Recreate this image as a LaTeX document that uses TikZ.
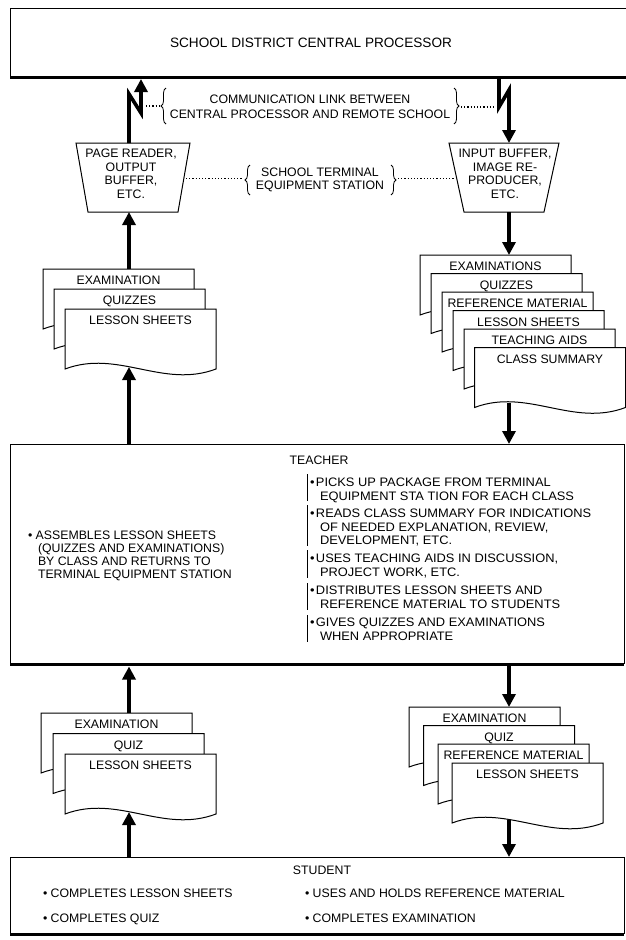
\documentclass[tikz,border=0pt]{standalone}
\usepackage{fontspec}
\setmainfont{Liberation Sans}
\newfontfamily\widefont{Liberation Sans}[FakeStretch=1.045]
\usetikzlibrary{arrows.meta,calc,decorations.pathreplacing}

\tikzset{
  lbl/.style={inner sep=0pt, outer sep=0pt, anchor=base},
  lblw/.style={inner sep=0pt, outer sep=0pt, anchor=base west},
  widelbl/.style={lblw, font=\widefont\fontsize{12.3}{14}\selectfont},
  frame/.style={line width=1pt},
  shadowline/.style={line width=3.5pt},
  boxnode/.style={draw=none, inner sep=0pt, outer sep=0pt},
  arr/.style={line width=3.6pt, -{Triangle[width=13pt,length=13pt]}},
  boltarr/.style={line width=3.6pt, line join=miter, -{Triangle[width=13pt,length=13pt]}},
  dots/.style={line width=1.2pt, dash pattern=on 1.2pt off 2pt},
  brc/.style={decorate, decoration={brace, amplitude=5pt}, line width=0.8pt},
  sheet/.style={draw=none, inner sep=0pt, outer sep=0pt, minimum width=151pt, minimum height=60pt, anchor=north west},
  sheetline/.style={line width=1pt, fill=white, line join=miter},
  bar/.style={line width=0.8pt},
}

\newcommand\docsheet[4]{%
  \node[sheet] (#1) at (#2,#3) {};
  \draw[sheetline] (#1.north west) -- (#1.north east) -- (#1.south east)
     .. controls ($(#1.south west)+(98,20)$) and ($(#1.south west)+(53,-20)$) .. (#1.south west) -- cycle;
  \node[lbl] (#1t) at ($(#1.north)+(0,15.5)$) {#4};
}

\begin{document}
\begin{tikzpicture}[x=1pt, y=-1pt, font=\fontsize{12.3}{14}\selectfont]
\useasboundingbox (0,0) rectangle (626,940);
\fill[white] (0,0) rectangle (626,940);

\coordinate (colL) at (129,0);
\coordinate (colR) at (509,0);

% ---------- central processor ----------
\node[boxnode, minimum width=616pt, minimum height=68pt] (cpu) at (318,42) {};
\draw[frame] (cpu.north east) -- (cpu.north west) -- (cpu.south west) -- (cpu.south east);
\draw[shadowline] ($(cpu.south west)+(0,1.5)$) -- ($(cpu.south east)+(0,1.5)$);
\node[lbl, font=\fontsize{13.6}{15}\selectfont] (cput) at (311,47) {SCHOOL DISTRICT CENTRAL PROCESSOR};
\coordinate (cpuS) at ($(cpu.south)+(0,3)$);

% ---------- terminal equipment ----------
\node[boxnode, minimum width=90pt, minimum height=69pt] (trapL) at (133,177.5) {};
\draw[frame, line join=miter] ($(trapL.north)+(-57,0)$) -- ($(trapL.north)+(57,0)$) -- ($(trapL.south)+(45,0)$) -- ($(trapL.south)+(-45,0)$) -- cycle;
\node[lbl] (trapLa) at (131,157.5) {PAGE READER,};
\node[lbl] (trapLb) at (131,171) {OUTPUT};
\node[lbl] (trapLc) at (131,184.5) {BUFFER,};
\node[lbl] (trapLd) at (131,198) {ETC.};

\node[boxnode, minimum width=80pt, minimum height=69pt] (trapR) at (504,177.5) {};
\draw[frame, line join=miter] ($(trapR.north)+(-55,0)$) -- ($(trapR.north)+(55,0)$) -- ($(trapR.south)+(40,0)$) -- ($(trapR.south)+(-40,0)$) -- cycle;
\node[lbl] (trapRa) at (505,157.5) {INPUT BUFFER,};
\node[lbl] (trapRb) at (505,171) {IMAGE RE-};
\node[lbl] (trapRc) at (505,184.5) {PRODUCER,};
\node[lbl] (trapRd) at (505,198) {ETC.};

% ---------- communication link ----------
\draw[boltarr] (colL |- trapL.north) -- (129,94) -- (141,113) -- (141,0 |- cpuS);
\draw[boltarr] (499,0 |- cpu.south) -- (499,107) -- (509,90) -- (colR |- trapR.north);

\node[lbl] (comm1) at (310,103) {COMMUNICATION LINK BETWEEN};
\node[lbl] (comm2) at (310,118) {CENTRAL PROCESSOR AND REMOTE SCHOOL};
\draw[brc] (166,124) -- (166,88);
\draw[brc] (454,88) -- (454,124);
\draw[dots] (146,106) -- (159.5,106);
\draw[dots] (461,107) -- (495,107);

\node[lbl] (term1) at (320,176.5) {SCHOOL TERMINAL};
\node[lbl] (term2) at (320,189.5) {EQUIPMENT STATION};
\draw[brc] (250,195) -- (250,165);
\draw[brc] (391,165) -- (391,195);
\draw[dots] (186,178.5) -- (243,178.5);
\draw[dots] (398,178.5) -- (455,178.5);

% ---------- upper stacks ----------
\docsheet{ulA}{43}{269}{EXAMINATION}
\docsheet{ulB}{54}{289}{QUIZZES}
\docsheet{ulC}{65}{309}{LESSON SHEETS}

\docsheet{urA}{420}{255}{EXAMINATIONS}
\docsheet{urB}{431}{273.5}{QUIZZES}
\docsheet{urC}{442}{292}{REFERENCE MATERIAL}
\docsheet{urD}{453}{310.5}{LESSON SHEETS}
\docsheet{urE}{464}{329}{TEACHING AIDS}
\docsheet{urF}{474.5}{347.5}{CLASS SUMMARY}

\draw[arr] (colL |- ulA.north) -- (colL |- trapL.south);
\draw[arr] (colR |- trapR.south) -- (colR |- urA.north);

% ---------- teacher ----------
\node[boxnode, minimum width=614pt, minimum height=219pt] (teacher) at (317,553.5) {};
\draw[frame] (teacher.north west) rectangle (teacher.south east);
\draw[shadowline] ($(teacher.south west)+(0,1.5)$) -- ($(teacher.south east)+(0,1.5)$);
\node[lbl] (teachT) at (319,464.5) {TEACHER};

\node[lblw] (tl1) at (28,539.5) {• ASSEMBLES LESSON SHEETS};
\node[lblw] (tl2) at (38,552.5) {(QUIZZES AND EXAMINATIONS)};
\node[lblw] (tl3) at (38,565.5) {BY CLASS AND RETURNS TO};
\node[lblw] (tl4) at (38,578.5) {TERMINAL EQUIPMENT STATION};

\node[widelbl] (tr1) at (310,486.5) {•\hspace{1.5pt}PICKS UP PACKAGE FROM TERMINAL};
\node[widelbl] (tr2) at (320,500) {EQUIPMENT STA TION FOR EACH CLASS};
\node[widelbl] (tr3) at (310,517.5) {•\hspace{1.5pt}READS CLASS SUMMARY FOR INDICATIONS};
\node[widelbl] (tr4) at (320,531) {OF NEEDED EXPLANATION, REVIEW,};
\node[widelbl] (tr5) at (320,544.5) {DEVELOPMENT, ETC.};
\node[widelbl] (tr6) at (310,562.5) {•\hspace{1.5pt}USES TEACHING AIDS IN DISCUSSION,};
\node[widelbl] (tr7) at (320,576) {PROJECT WORK, ETC.};
\node[widelbl] (tr8) at (310,594.5) {•\hspace{1.5pt}DISTRIBUTES LESSON SHEETS AND};
\node[widelbl] (tr9) at (320,608) {REFERENCE MATERIAL TO STUDENTS};
\node[widelbl] (tr10) at (310,626.5) {•\hspace{1.5pt}GIVES QUIZZES AND EXAMINATIONS};
\node[widelbl] (tr11) at (320,640) {WHEN APPROPRIATE};
\draw[bar] (307,474) -- (307,501);
\draw[bar] (307,505) -- (307,546);
\draw[bar] (307,550) -- (307,578);
\draw[bar] (307,583) -- (307,610);
\draw[bar] (307,615) -- (307,642);

\draw[arr] (colL |- teacher.north) -- ($(colL |- ulC.south)+(0,-2)$);
\draw[arr] ($(colR |- urF.south)+(0,-5)$) -- (colR |- teacher.north);

% ---------- lower stacks ----------
\docsheet{llA}{41}{713}{EXAMINATION}
\docsheet{llB}{53}{733.5}{QUIZ}
\docsheet{llC}{65}{754}{LESSON SHEETS}

\docsheet{lrA}{409}{707}{EXAMINATION}
\docsheet{lrB}{423.5}{725.5}{QUIZ}
\docsheet{lrC}{438}{744}{REFERENCE MATERIAL}
\docsheet{lrD}{452}{763}{LESSON SHEETS}

\draw[arr] (colL |- llA.north) -- ($(colL |- teacher.south)+(0,3.5)$);
\draw[arr] ($(colR |- teacher.south)+(0,3)$) -- (colR |- lrA.north);

% ---------- student ----------
\node[boxnode, minimum width=614pt, minimum height=76pt] (student) at (317,895) {};
\draw[frame] (student.north west) rectangle (student.south east);
\draw[shadowline] ($(student.south west)+(0,1.5)$) -- ($(student.south east)+(0,1.5)$);
\node[lbl] (studT) at (322,874.5) {STUDENT};
\node[lblw] (s1) at (43,897.5) {• COMPLETES LESSON SHEETS};
\node[lblw] (s2) at (43,922.5) {• COMPLETES QUIZ};
\node[lblw] (s3) at (305,897.5) {• USES AND HOLDS REFERENCE MATERIAL};
\node[lblw] (s4) at (305,922.5) {• COMPLETES EXAMINATION};

\draw[arr] (colL |- student.north) -- ($(colL |- llC.south)+(0,-2)$);
\draw[arr] ($(colR |- lrD.south)+(0,-3.5)$) -- (colR |- student.north);
\end{tikzpicture}
\end{document}
